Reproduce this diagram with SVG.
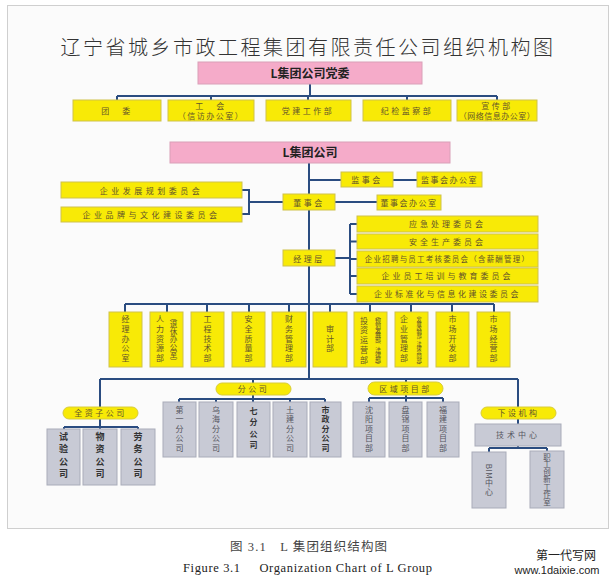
<svg xmlns="http://www.w3.org/2000/svg" width="616" height="583" viewBox="0 0 616 583">
<style>
.cjk{font-family:"Noto Sans CJK SC","Noto Sans",sans-serif}
.yb{fill:#f8ea06;stroke:#cfc24a;stroke-width:1}
.pk{fill:#f5abc9;stroke:#d9a0b8;stroke-width:1}
.gb{fill:#c8cad5;stroke:#a9acb9;stroke-width:1}
.pill{fill:#f8ea06;stroke:#d8cc3a;stroke-width:1}
.ln{fill:none;stroke:#2a4c80;stroke-width:2}
.t{font-family:"Noto Sans CJK SC",sans-serif;font-size:8px;fill:#64552a;text-anchor:middle;letter-spacing:2.5px}
.v{font-family:"Noto Sans CJK SC",sans-serif;font-size:8px;fill:#64552a;text-anchor:middle;writing-mode:vertical-rl;letter-spacing:1.8px}
.vg{font-family:"Noto Sans CJK SC",sans-serif;font-size:8px;fill:#55555e;text-anchor:middle;writing-mode:vertical-rl;letter-spacing:1.5px}
.vb{font-family:"Noto Sans CJK SC",sans-serif;font-size:9px;font-weight:bold;fill:#333;text-anchor:middle;writing-mode:vertical-rl;letter-spacing:3.5px}
</style>
<rect x="7.5" y="5.5" width="601" height="523" fill="#fbfbfb" stroke="#cfcfcf"/>
<text x="308" y="55" font-family="Noto Sans CJK SC,sans-serif" font-size="20" font-weight="300" fill="#333" text-anchor="middle" letter-spacing="2.5">辽宁省城乡市政工程集团有限责任公司组织机构图</text>

<g id="connectors">
<path class="ln" d="M310 84V96M117 96H497M117 96V100M211 96V100M308 96V100M407 96V100M497 96V100"/>
<path class="ln" d="M309 163V379"/>
<path class="ln" d="M309 180H341M393 180H417M335 202H377M283 202H249M242 190H249V214H242"/>
<path class="ln" d="M335 258H350M350 224V294M350 224H357M350 241.5H357M350 259H357M350 276H357M350 294H357"/>
<path class="ln" d="M125 304H494M125 304V312M167 304V312M207 304V312M249 304V312M289 304V312M330 304V312M370 304V312M411 304V312M452 304V312M494 304V312"/>
<path class="ln" d="M100 379H518M100 379V407M253 379V383M406 379V382M518 379V407"/>
<path class="ln" d="M253 395V399M179 399H325M179 399V402M216 399V402M253 399V402M290 399V402M325 399V402"/>
<path class="ln" d="M100 419V427M64 427H138M64 427V429M100 427V429M138 427V429"/>
<path class="ln" d="M406 395V398M369 398H443M369 398V402M406 398V402M443 398V402"/>
<path class="ln" d="M518 419V424M518 446V448M489 448H547M489 448V452M547 448V451"/>
</g>

<g id="party"><rect class="pk" x="198" y="62" width="224" height="22"/><text x="310" y="77.5" class="cjk" font-size="12" font-weight="bold" fill="#222" text-anchor="middle">L集团公司党委</text></g>
<g id="tuanwei"><rect class="yb" x="73" y="100" width="88" height="21"/><text class="t" x="117" y="113.5">团　委</text></g>
<g id="gonghui"><rect class="yb" x="168" y="100" width="86" height="21"/><text class="t" x="211" y="109">工　会</text><text class="t" x="211" y="119" style="letter-spacing:1.5px">（信访办公室）</text></g>
<g id="dangjian"><rect class="yb" x="266" y="100" width="85" height="21"/><text class="t" x="308" y="113.5">党建工作部</text></g>
<g id="jijian"><rect class="yb" x="363" y="100" width="88" height="21"/><text class="t" x="407" y="113.5">纪检监察部</text></g>
<g id="xuanchuan"><rect class="yb" x="457" y="100" width="80" height="21"/><text class="t" x="497" y="109">宣传部</text><text class="t" x="497" y="119" style="letter-spacing:0.5px">（网络信息办公室）</text></g>

<g id="group"><rect class="pk" x="170" y="142" width="280" height="21"/><text x="310" y="157" class="cjk" font-size="12" font-weight="bold" fill="#222" text-anchor="middle">L集团公司</text></g>
<g id="jianshihui"><rect class="yb" x="341" y="172" width="52" height="15"/><text class="t" x="367" y="183">监事会</text></g>
<g id="jianshihui-office"><rect class="yb" x="417" y="172" width="65" height="15"/><text class="t" x="449.5" y="183" style="letter-spacing:1.5px">监事会办公室</text></g>
<g id="dongshihui"><rect class="yb" x="283" y="194" width="52" height="16"/><text class="t" x="309" y="205.5">董事会</text></g>
<g id="dongshihui-office"><rect class="yb" x="377" y="195" width="64" height="15"/><text class="t" x="409" y="206" style="letter-spacing:1.5px">董事会办公室</text></g>
<g id="fazhan"><rect class="yb" x="61" y="182" width="181" height="16"/><text class="t" x="151.5" y="193.5" style="letter-spacing:3.5px">企业发展规划委员会</text></g>
<g id="pinpai"><rect class="yb" x="61" y="207" width="181" height="15"/><text class="t" x="151.5" y="218" style="letter-spacing:3.5px">企业品牌与文化建设委员会</text></g>
<g id="jinglice"><rect class="yb" x="283" y="250" width="52" height="16"/><text class="t" x="309" y="261.5">经理层</text></g>
<g id="yingji"><rect class="yb" x="357" y="216" width="181" height="16"/><text class="t" x="447.5" y="227" style="letter-spacing:3px">应急处理委员会</text></g>
<g id="anquan"><rect class="yb" x="357" y="234" width="181" height="15"/><text class="t" x="447.5" y="244.5" style="letter-spacing:3px">安全生产委员会</text></g>
<g id="zhaopin"><rect class="yb" x="357" y="251" width="181" height="16"/><text class="t" x="447.5" y="262" style="font-size:7.5px;letter-spacing:1.2px">企业招聘与员工考核委员会（含薪酬管理）</text></g>
<g id="peixun"><rect class="yb" x="357" y="268" width="181" height="16"/><text class="t" x="447.5" y="279" style="letter-spacing:3px">企业员工培训与教育委员会</text></g>
<g id="biaozhun"><rect class="yb" x="357" y="286" width="181" height="16"/><text class="t" x="447.5" y="297" style="letter-spacing:2.5px">企业标准化与信息化建设委员会</text></g>

<g id="d1"><rect class="yb" x="109" y="312" width="33" height="55"/><text class="v" x="125.5" y="339.5">经理办公室</text></g>
<g id="d2"><rect class="yb" x="150" y="312" width="33" height="55"/><text class="v" x="160" y="339.5">人力资源部</text><text class="v" x="173.5" y="339.5" style="font-size:7.5px;letter-spacing:0">（退休办公室）</text></g>
<g id="d3"><rect class="yb" x="191" y="312" width="33" height="55"/><text class="v" x="207.5" y="339.5">工程技术部</text></g>
<g id="d4"><rect class="yb" x="232" y="312" width="33" height="55"/><text class="v" x="248.5" y="339.5">安全质量部</text></g>
<g id="d5"><rect class="yb" x="272" y="312" width="34" height="55"/><text class="v" x="289" y="339.5">财务管理部</text></g>
<g id="d6"><rect class="yb" x="313" y="312" width="34" height="55"/><text class="v" x="330" y="339.5">审计部</text></g>
<g id="d7"><rect class="yb" x="354" y="312" width="33" height="55"/><text class="v" x="364" y="341">投资运营部</text><text class="v" x="378" y="339.5" style="font-size:6px;letter-spacing:-1.1px">（规划发展部、法律部）</text></g>
<g id="d8"><rect class="yb" x="395" y="312" width="33" height="55"/><text class="v" x="404" y="339.5">企业管理部</text><text class="v" x="419" y="339.5" style="font-size:5.2px;letter-spacing:-1.1px">（发展改制部、法律合同部）</text></g>
<g id="d9"><rect class="yb" x="436" y="312" width="33" height="55"/><text class="v" x="452.5" y="339.5">市场开发部</text></g>
<g id="d10"><rect class="yb" x="477" y="312" width="33" height="55"/><text class="v" x="493.5" y="339.5">市场经营部</text></g>

<g id="fengongsi"><rect class="pill" x="216" y="383" width="75" height="12" rx="6"/><text class="t" x="253.5" y="392">分公司</text></g>
<g id="b1"><rect class="gb" x="163" y="402" width="33" height="55"/><text class="vg" x="179.5" y="429.5">第一分公司</text></g>
<g id="b2"><rect class="gb" x="199" y="402" width="34" height="55"/><text class="vg" x="216" y="429.5">乌海分公司</text></g>
<g id="b3"><rect class="gb" x="237" y="402" width="33" height="55"/><text class="vg" x="253.5" y="429.5" style="fill:#333;font-weight:bold;letter-spacing:3.5px">七分公司</text></g>
<g id="b4"><rect class="gb" x="273" y="402" width="34" height="55"/><text class="vg" x="290" y="429.5">土建分公司</text></g>
<g id="b5"><rect class="gb" x="310" y="402" width="31" height="55"/><text class="vg" x="325.5" y="429.5" style="fill:#333;font-weight:bold">市政分公司</text></g>

<g id="quanzi"><rect class="pill" x="63" y="407" width="75" height="12" rx="6"/><text class="t" x="100.5" y="416">全资子公司</text></g>
<g id="s1"><rect class="gb" x="47" y="429" width="33" height="56"/><text class="vb" x="63.5" y="457">试验公司</text></g>
<g id="s2"><rect class="gb" x="83" y="429" width="34" height="56"/><text class="vb" x="100" y="457">物资公司</text></g>
<g id="s3"><rect class="gb" x="121" y="429" width="34" height="56"/><text class="vb" x="138" y="457">劳务公司</text></g>

<g id="quyu"><rect class="pill" x="368" y="382" width="75" height="13" rx="6.5"/><text class="t" x="405.5" y="391.5">区域项目部</text></g>
<g id="p1"><rect class="gb" x="353" y="402" width="32" height="55"/><text class="vg" x="369" y="429.5">沈阳项目部</text></g>
<g id="p2"><rect class="gb" x="389" y="402" width="33" height="55"/><text class="vg" x="405.5" y="429.5">盘锦项目部</text></g>
<g id="p3"><rect class="gb" x="427" y="402" width="32" height="55"/><text class="vg" x="443" y="429.5">福建项目部</text></g>

<g id="xiashe"><rect class="pill" x="481" y="407" width="75" height="12" rx="6"/><text class="t" x="518.5" y="416">下设机构</text></g>
<g id="jishu"><rect class="gb" x="475" y="424" width="86" height="22"/><text class="t" x="518" y="438" style="fill:#55555e;letter-spacing:3px">技术中心</text></g>
<g id="bim"><rect class="gb" x="472" y="452" width="34" height="56"/><text class="vg" x="489" y="480" style="letter-spacing:0.5px">BIM中心</text></g>
<g id="zhigong"><rect class="gb" x="530" y="451" width="34" height="57"/><text class="vg" x="547" y="479.5" style="font-size:7.5px;letter-spacing:0">职工创新工作室</text></g>

<text x="230" y="551" font-family="Liberation Serif,Noto Sans CJK SC,serif" font-size="12.5" fill="#444" textLength="157" lengthAdjust="spacing">图 3.1　L 集团组织结构图</text>
<text x="183" y="572" font-family="Liberation Serif,serif" font-size="12.5" fill="#222" textLength="249" lengthAdjust="spacing" xml:space="preserve">Figure 3.1     Organization Chart of L Group</text>
<text x="566" y="560" font-family="Noto Sans CJK SC,sans-serif" font-size="12" fill="#222" text-anchor="middle">第一代写网</text>
<text x="557" y="574" font-family="Liberation Sans,sans-serif" font-size="11" fill="#222" text-anchor="middle">www.1daixie.com</text>
</svg>
